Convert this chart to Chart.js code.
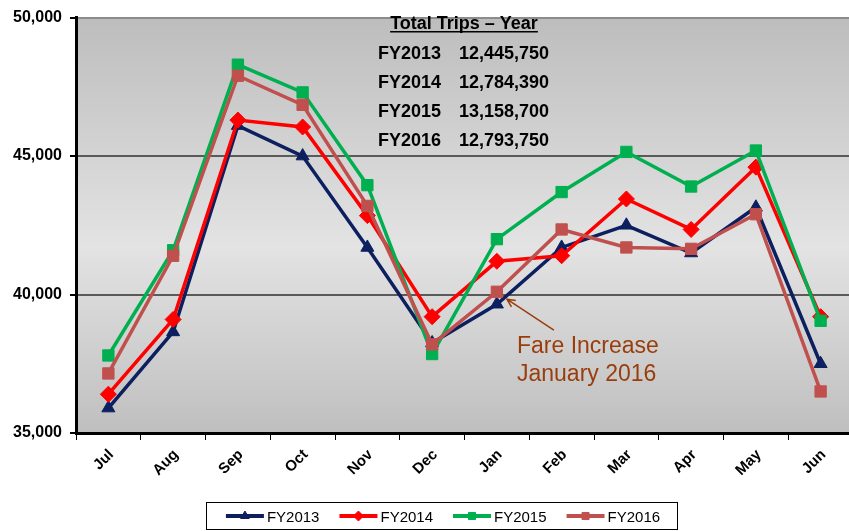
<!DOCTYPE html>
<html>
<head>
<meta charset="utf-8">
<script src="https://cdn.jsdelivr.net/npm/chart.js@4.4.0/dist/chart.umd.min.js"></script>
<style>
html, body { margin: 0; padding: 0; background: #fff; overflow: hidden; }
#wrap { width: 849px; height: 531px; overflow: hidden; }
</style>
</head>
<body>
<div id="wrap"><canvas id="myChart" width="862" height="531"></canvas></div>
<script>
// chart data
var months = ["Jul", "Aug", "Sep", "Oct", "Nov", "Dec", "Jan", "Feb", "Mar", "Apr", "May", "Jun"];
var fy2013 = [35900, 38650, 46100, 45000, 41700, 38250, 39650, 41700, 42500, 41500, 43150, 37500];
var fy2014 = [36400, 39100, 46300, 46050, 42850, 39200, 41200, 41400, 43450, 42350, 44600, 39200];
var fy2015 = [37800, 41600, 48300, 47300, 43950, 37850, 42000, 43700, 45150, 43900, 45200, 39050];
var fy2016 = [37150, 41400, 47900, 46850, 43200, 38200, 40100, 42350, 41700, 41650, 42900, 36500];

var seriesNames = ["FY2013", "FY2014", "FY2015", "FY2016"];
var seriesColors = ['#0c1f5f', '#ff0000', '#00b050', '#c0504d'];
var seriesMarkers = ['triangle', 'rectRot', 'rect', 'rect'];

var yTicks = [35000, 40000, 45000, 50000];

// totals box
var totalTitle = "Total Trips \u2013 Year";
var totalYears = ["FY2013", "FY2014", "FY2015", "FY2016"];
var totalTrips = ["12,445,750", "12,784,390", "13,158,700", "12,793,750"];

var noteLines = ["Fare Increase", "January 2016"];
var noteMonth = 6; // Jan

var font = "'Liberation Sans', Arial, sans-serif";

var seriesValues = [fy2013, fy2014, fy2015, fy2016];
var datasets = [];
for (var i = 0; i < seriesNames.length; i++) {
    datasets.push({
        label: seriesNames[i],
        data: seriesValues[i],
        borderColor: seriesColors[i],
        backgroundColor: seriesColors[i],
        pointBackgroundColor: seriesColors[i],
        pointBorderColor: seriesColors[i],
        pointStyle: seriesMarkers[i],
        pointRadius: seriesMarkers[i] == 'triangle' ? 7.5 : 8,
        pointBorderWidth: 1,
        borderWidth: 3.5,
        tension: 0,
        clip: false,
        order: seriesNames.length - i
    });
}

// plot area gradient
var bgPlugin = {
    id: 'plotBg',
    beforeDraw: function(chart) {
        var a = chart.chartArea;
        var ctx = chart.ctx;
        var g = ctx.createLinearGradient(0, a.top, 0, a.bottom);
        g.addColorStop(0, '#bdbdbd');
        g.addColorStop(0.55, '#e3e3e3');
        g.addColorStop(1, '#bfbfbf');
        ctx.save();
        ctx.fillStyle = g;
        ctx.fillRect(a.left, a.top, a.right - a.left, a.bottom - a.top);
        ctx.restore();
    }
};

// texts, arrow and legend
var overlayPlugin = {
    id: 'overlay',
    afterDraw: function(chart) {
        var ctx = chart.ctx;
        ctx.save();

        // totals
        ctx.fillStyle = '#000';
        ctx.font = 'bold 18px ' + font;
        ctx.textBaseline = 'alphabetic';
        ctx.textAlign = 'center';
        ctx.fillText(totalTitle, 464, 29);
        var tw = ctx.measureText(totalTitle).width;
        ctx.fillRect(464 - tw / 2, 31, tw, 1.5);
        ctx.textAlign = 'left';
        for (var i = 0; i < totalYears.length; i++) {
            ctx.fillText(totalYears[i], 378, 59 + i * 29);
            ctx.fillText(totalTrips[i], 459, 59 + i * 29);
        }

        // fare increase note
        var xs = chart.scales.x, ys = chart.scales.y;
        var hx = xs.getPixelForValue(noteMonth) + 10;
        var hy = ys.getPixelForValue(fy2013[noteMonth]) - 5;
        var tx = hx + 47, ty = hy + 31;
        ctx.strokeStyle = '#9a3d0c';
        ctx.lineWidth = 1.5;
        ctx.beginPath();
        ctx.moveTo(tx, ty);
        ctx.lineTo(hx, hy);
        var ang = Math.atan2(ty - hy, tx - hx);
        ctx.moveTo(hx + 9 * Math.cos(ang - 0.45), hy + 9 * Math.sin(ang - 0.45));
        ctx.lineTo(hx, hy);
        ctx.lineTo(hx + 9 * Math.cos(ang + 0.45), hy + 9 * Math.sin(ang + 0.45));
        ctx.stroke();
        ctx.fillStyle = '#9a3d0c';
        ctx.font = '23px ' + font;
        ctx.textAlign = 'left';
        ctx.fillText(noteLines[0], 517, 353);
        ctx.fillText(noteLines[1], 517, 381);

        // legend
        ctx.font = '15px ' + font;
        var lineLen = 38, gap = 3, itemGap = 20;
        var widths = [];
        var total = 0;
        for (var j = 0; j < seriesNames.length; j++) {
            var w = ctx.measureText(seriesNames[j]).width;
            widths.push(w);
            total += lineLen + gap + w;
        }
        total += itemGap * (seriesNames.length - 1);
        var cx = 443;
        var x = cx - total / 2;
        var ly = 516;
        ctx.strokeStyle = '#000';
        ctx.lineWidth = 1;
        ctx.strokeRect(Math.round(x - 20) + 0.5, 502.5, Math.round(total + 37), 27);
        for (var k = 0; k < seriesNames.length; k++) {
            ctx.strokeStyle = seriesColors[k];
            ctx.fillStyle = seriesColors[k];
            ctx.lineWidth = 4;
            ctx.beginPath();
            ctx.moveTo(x, ly);
            ctx.lineTo(x + lineLen, ly);
            ctx.stroke();
            ctx.lineWidth = 1;
            Chart.helpers.drawPoint(ctx, {
                pointStyle: seriesMarkers[k],
                radius: 5,
                rotation: 0,
                borderWidth: 1
            }, x + lineLen / 2, ly);
            ctx.fillStyle = '#000';
            ctx.textAlign = 'left';
            ctx.fillText(seriesNames[k], x + lineLen + gap, 522);
            x += lineLen + gap + widths[k] + itemGap;
        }
        ctx.restore();
    }
};

var lineChart = new Chart('myChart', {
    type: 'line',
    data: {
        labels: months,
        datasets: datasets
    },
    options: {
        responsive: false,
        animation: false,
        layout: {
            padding: { top: 13, right: 0, bottom: 40, left: 0 }
        },
        plugins: {
            legend: { display: false },
            tooltip: { enabled: false }
        },
        scales: {
            x: {
                offset: true,
                grid: {
                    offset: true,
                    drawOnChartArea: false,
                    drawTicks: true,
                    tickLength: 7,
                    color: '#000',
                    lineWidth: 1
                },
                border: { display: true, color: '#000', width: 3 },
                ticks: {
                    color: '#000',
                    font: { family: font, size: 15, weight: 'bold' },
                    minRotation: 45,
                    maxRotation: 45,
                    padding: 6,
                    labelOffset: 3
                },
                afterFit: function(scale) {
                    scale.height = 58;
                }
            },
            y: {
                min: 35000,
                max: 50000,
                afterBuildTicks: function(scale) {
                    scale.ticks = yTicks.map(function(v) { return { value: v }; });
                },
                grid: {
                    drawTicks: true,
                    tickLength: 6,
                    tickColor: '#000',
                    lineWidth: 2,
                    color: function(c) {
                        if (c.tick && c.tick.value == 50000) return '#8c8c8c';
                        if (c.tick && c.tick.value == 35000) return '#000';
                        return '#5a5a5a';
                    }
                },
                border: { display: true, color: '#000', width: 3 },
                ticks: {
                    color: '#000',
                    padding: 8,
                    font: { family: font, size: 16, weight: 'bold' },
                    callback: function(v) { return v.toLocaleString('en-US'); }
                },
                afterFit: function(scale) {
                    scale.width = 76;
                }
            }
        }
    },
    plugins: [bgPlugin, overlayPlugin]
});
</script>
</body>
</html>
